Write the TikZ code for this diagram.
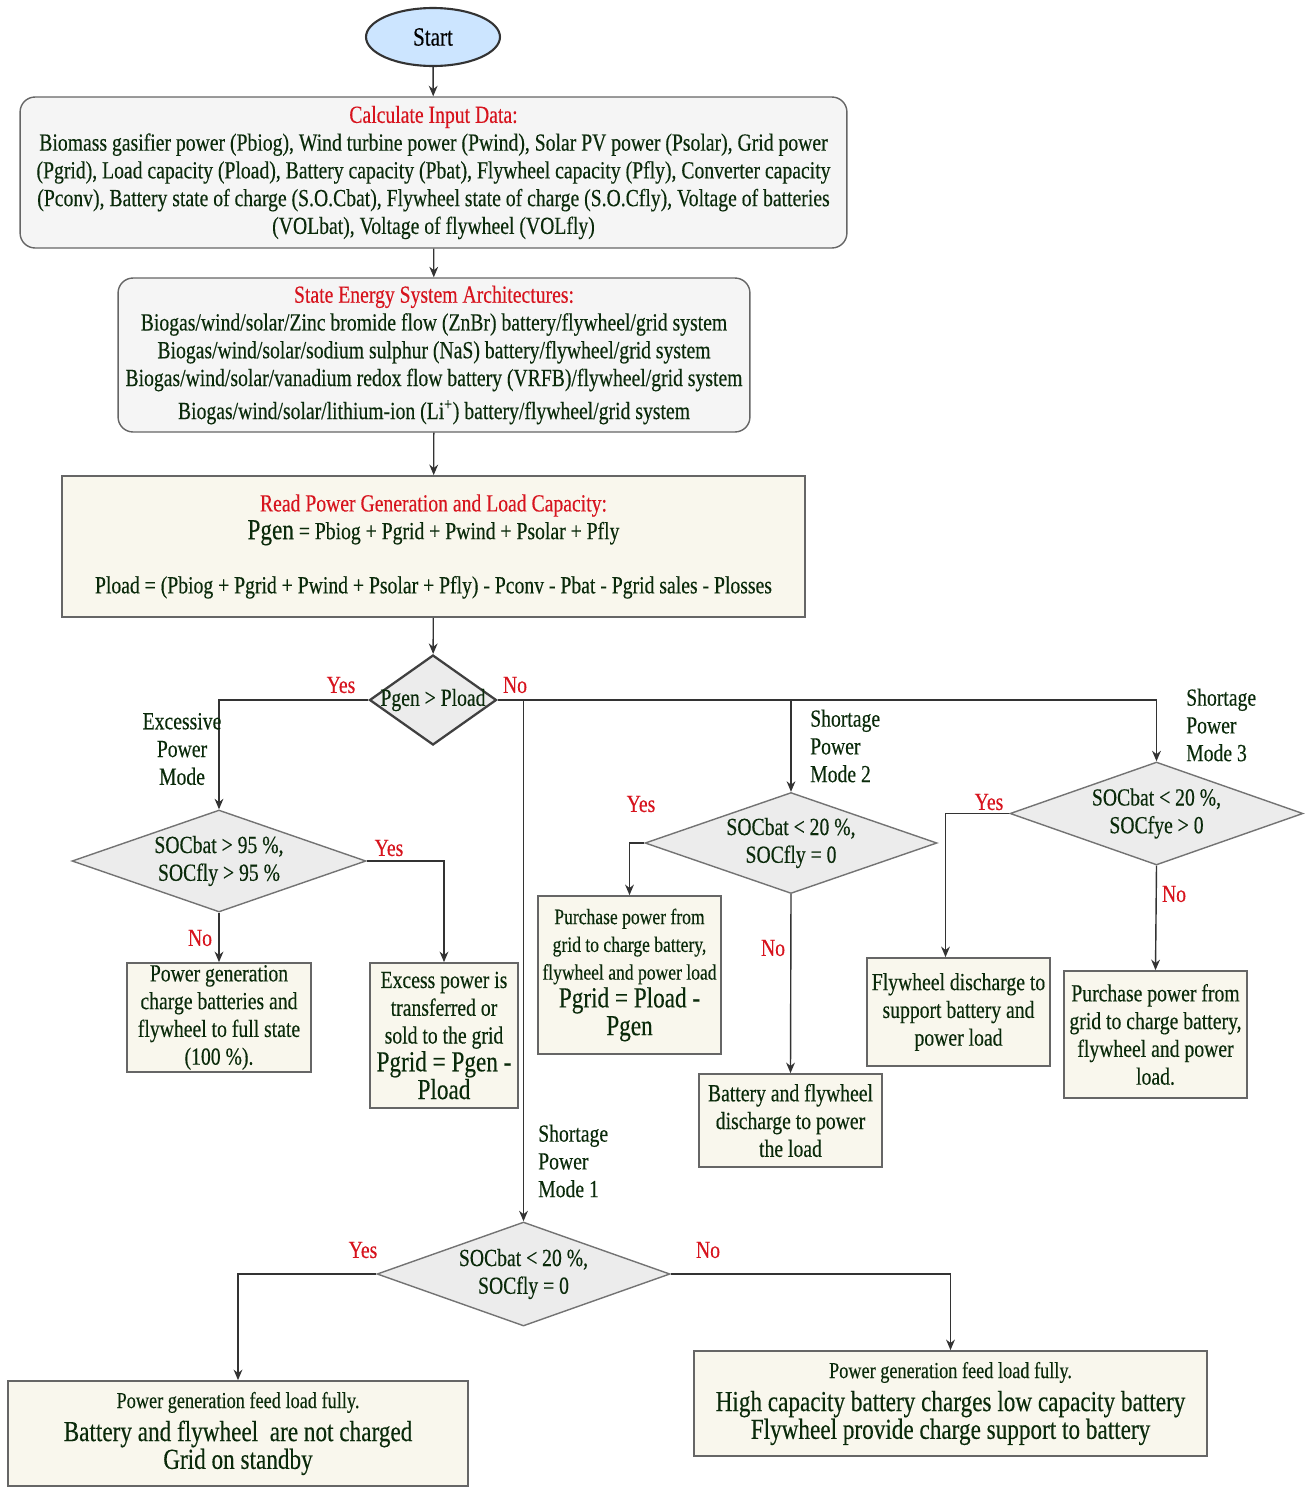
\documentclass[tikz,border=0pt]{standalone}
\usepackage{fontspec}
\setmainfont[FakeStretch=0.8, FakeBold=0.3]{Liberation Serif}
\usetikzlibrary{shapes.geometric,arrows.meta}
\definecolor{txtgreen}{RGB}{10,42,10}
\definecolor{titlered}{RGB}{215,20,30}
\definecolor{startblue}{RGB}{204,229,255}
\definecolor{greybox}{RGB}{245,245,245}
\definecolor{beigebox}{RGB}{249,247,237}
\definecolor{diafill}{RGB}{236,236,236}
\tikzset{
  greyround/.style={draw=black!60, fill=greybox, rounded corners=0.3cm, line width=0.8pt, align=center, inner sep=0pt, text=txtgreen},
  beige/.style={draw=black!60, fill=beigebox, line width=1pt, align=center, inner sep=0pt, text=txtgreen},
  decision/.style={diamond, draw=black!55, fill=diafill, line width=0.8pt, inner sep=0pt},
  dectext/.style={align=center, text=txtgreen},
  yesno/.style={text=titlered},
  modetext/.style={align=left, text=txtgreen},
  flow/.style={->, draw=black!80, line width=0.8pt},
}
\newcommand{\bigtxt}{\fontsize{16.5}{18}\selectfont}
\newcommand{\smalltxt}{\fontsize{12.5}{14}\selectfont}
\newcommand{\feedtxt}{\fontsize{13}{15}\selectfont}
\begin{document}
\begin{tikzpicture}[x=0.02cm, y=-0.02cm, font=\fontsize{14}{15.8}\selectfont, >={Stealth[length=6pt,width=5pt]}]
\useasboundingbox (0,0) rectangle (1310,1488);

\node[ellipse, draw=black!80, fill=startblue, line width=1.2pt, minimum width=2.68cm, minimum height=1.16cm, inner sep=0pt, text=black] (start) at (433,37) {\fontsize{15}{16}\selectfont Start};
\node[greyround, minimum width=16.54cm, minimum height=3.02cm] (input) at (433.5,172.5) {\textcolor{titlered}{Calculate Input Data:}\\
Biomass gasifier power (Pbiog), Wind turbine power (Pwind), Solar PV power (Psolar), Grid power\\
(Pgrid), Load capacity (Pload), Battery capacity (Pbat), Flywheel capacity (Pfly), Converter capacity\\
(Pconv), Battery state of charge (S.O.Cbat), Flywheel state of charge (S.O.Cfly), Voltage of batteries\\
(VOLbat), Voltage of flywheel (VOLfly)};
\node[greyround, minimum width=12.64cm, minimum height=3.08cm] (arch) at (434,355) {\textcolor{titlered}{State Energy System Architectures:}\\
Biogas/wind/solar/Zinc bromide flow (ZnBr) battery/flywheel/grid system\\
Biogas/wind/solar/sodium sulphur (NaS) battery/flywheel/grid system\\
Biogas/wind/solar/vanadium redox flow battery (VRFB)/flywheel/grid system\\[3pt]
Biogas/wind/solar/lithium-ion (Li\textsuperscript{+}) battery/flywheel/grid system};
\node[beige, minimum width=14.86cm, minimum height=2.82cm] (readgen) at (433.5,546.5) {\textcolor{titlered}{Read Power Generation and Load Capacity:}\\
{\bigtxt Pgen} = Pbiog + Pgrid + Pwind + Psolar + Pfly\\[15pt]
Pload = (Pbiog + Pgrid + Pwind + Psolar + Pfly) - Pconv - Pbat - Pgrid sales - Plosses};

\node[decision, draw=black!75, line width=1.3pt, minimum width=2.54cm, minimum height=1.8cm] (pgen) at (433,700) {};
\node[dectext] (pgentxt) at (pgen) {Pgen > Pload};

\node[decision, minimum width=5.88cm, minimum height=2.04cm] (exc) at (219,861) {};
\node[dectext] (exctxt) at (exc) {SOCbat > 95 \%,\\SOCfly > 95 \%};
\node[decision, minimum width=5.84cm, minimum height=2.02cm] (modetwo) at (791,843) {};
\node[dectext] (modetwotxt) at (modetwo) {SOCbat < 20 \%,\\SOCfly = 0};
\node[decision, minimum width=5.86cm, minimum height=2.06cm] (modethree) at (1156.5,813.5) {};
\node[dectext] (modethreetxt) at (modethree) {SOCbat < 20 \%,\\SOCfye > 0};
\node[decision, minimum width=5.86cm, minimum height=2.08cm] (modeone) at (523.5,1274) {};
\node[dectext] (modeonetxt) at (modeone) {SOCbat < 20 \%,\\SOCfly = 0};

\node[beige, minimum width=3.68cm, minimum height=2.18cm] (fullstate) at (219,1017.5) {Power generation\\charge batteries and\\flywheel to full state\\(100 \%).};
\node[beige, minimum width=2.96cm, minimum height=2.9cm] (sold) at (444,1035.5) {Excess power is\\transferred or\\sold to the grid\\{\bigtxt Pgrid = Pgen -}\\{\bigtxt Pload}};
\node[beige, minimum width=3.66cm, minimum height=3.16cm] (buytwo) at (629.5,975) {{\smalltxt Purchase power from}\\{\smalltxt grid to charge battery,}\\{\smalltxt flywheel and power load}\\{\bigtxt Pgrid = Pload -}\\{\bigtxt Pgen}};
\node[beige, minimum width=3.66cm, minimum height=1.86cm] (dischargetwo) at (790.5,1120.5) {Battery and flywheel\\discharge to power\\the load};
\node[beige, minimum width=3.66cm, minimum height=2.16cm] (flysupport) at (958.5,1012) {Flywheel discharge to\\support battery and\\power load};
\node[beige, minimum width=3.66cm, minimum height=2.54cm] (buythree) at (1155.5,1034.5) {Purchase power from\\grid to charge battery,\\flywheel and power\\load.};
\node[beige, minimum width=9.2cm, minimum height=2.1cm] (standby) at (238,1433.5) {{\feedtxt Power generation feed load fully.}\\[3pt]
{\bigtxt Battery and flywheel\ \ are not charged}\\
{\bigtxt Grid on standby}};
\node[beige, minimum width=10.26cm, minimum height=2.1cm] (feedload) at (950.5,1403.5) {{\feedtxt Power generation feed load fully.}\\[3pt]
{\bigtxt High capacity battery charges low capacity battery}\\
{\bigtxt Flywheel provide charge support to battery}};

\draw[flow] (start) -- (input);
\draw[flow] (input) -- (arch);
\draw[flow] (arch) -- (readgen);
\draw[flow] (readgen) -- (pgen);
\draw[flow] (pgen.west) -| (exc.north);
\draw[flow, line width=1.1pt] (pgen.east) -| (modethree.north);
\draw[flow] (pgen.east -| modetwo.north) -- (modetwo.north);
\draw[flow] (pgen.east -| modeone.north) -- (modeone.north);
\draw[flow] (exc.east) -| (sold.north);
\draw[flow] (exc.south) -- (fullstate.north);
\draw[flow] (modetwo.west) -| (buytwo.north);
\draw[flow] (modetwo.south) -- (dischargetwo.north);
\draw[flow] (modethree.west) -| ([xshift=-0.26cm]flysupport.north);
\draw[flow] (modethree.south) -- (buythree.north);
\draw[flow] (modeone.west) -| (standby.north);
\draw[flow] (modeone.east) -| (feedload.north);

\node[yesno] (yesmain) at (341,685) {Yes};
\node[yesno] (nomain) at (515,685) {No};
\node[yesno] (yesexc) at (389,848) {Yes};
\node[yesno] (noexc) at (200,938) {No};
\node[yesno] (yestwo) at (641,804) {Yes};
\node[yesno] (notwo) at (773,948) {No};
\node[yesno] (yesthree) at (989,802) {Yes};
\node[yesno] (nothree) at (1174,894) {No};
\node[yesno] (yesone) at (363,1250) {Yes};
\node[yesno] (noone) at (708,1250) {No};

\node[dectext] (excmode) at (182,749) {Excessive\\Power\\Mode};
\node[modetext, anchor=west] (shorttwo) at (804,746) {Shortage\\Power\\Mode 2};
\node[modetext, anchor=west] (shortthree) at (1180,725) {Shortage\\Power\\Mode 3};
\node[modetext, anchor=west] (shortone) at (532,1161) {Shortage\\Power\\Mode 1};
\end{tikzpicture}
\end{document}
